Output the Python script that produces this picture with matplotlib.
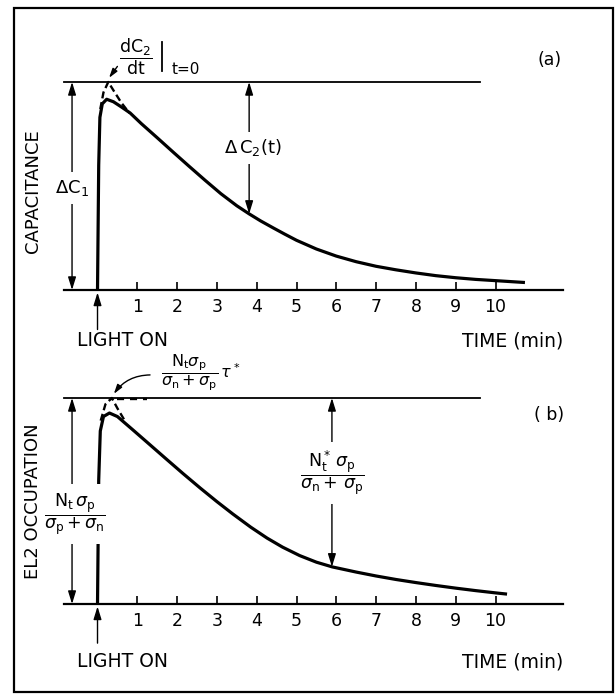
import numpy as np
import matplotlib
matplotlib.use("Agg")
import matplotlib.pyplot as plt
from matplotlib.patches import Rectangle, ArrowStyle

plt.rcParams['font.family'] = ['DejaVu Sans']
plt.rcParams['mathtext.fontset'] = 'dejavusans'

# ---------------- data ----------------
# (a) capacitance transient, normalised to Delta C1 = 1
cap_t = [0, 0.03, 0.06, 0.12, 0.23, 0.4, 0.6, 0.82, 1.1, 1.5, 1.9, 2.3, 2.7,
         3.1, 3.5, 3.81, 4.1, 4.42, 4.7, 5.0, 5.5, 6.0, 6.5, 7.0,
         7.5, 8.0, 8.5, 9.0, 9.5, 10.0, 10.74]
cap_v = [0, 0.6, 0.83, 0.895, 0.917, 0.905, 0.88, 0.851, 0.80, 0.732, 0.663,
         0.595, 0.528, 0.463, 0.405, 0.366, 0.332, 0.298, 0.269, 0.239,
         0.197, 0.163, 0.136, 0.114, 0.097, 0.082, 0.069, 0.059, 0.051,
         0.045, 0.036]
cap_dash_t = [0.07, 0.15, 0.27, 0.4, 0.6, 0.8]
cap_dash_v = [0.87, 0.95, 1.0, 0.96, 0.90, 0.851]

# (b) EL2 occupation, normalised
occ_t = [0, 0.03, 0.07, 0.15, 0.3, 0.5, 0.89, 1.3, 1.75, 2.15, 2.58, 3.0, 3.4,
         3.85, 4.26, 4.65, 5.08, 5.5, 5.9, 6.5, 7.0, 7.5, 8.0, 8.5, 9.0, 9.5,
         10.0, 10.29]
occ_v = [0, 0.6, 0.84, 0.91, 0.927, 0.91, 0.845, 0.776, 0.70, 0.633, 0.563,
         0.497, 0.437, 0.373, 0.32, 0.276, 0.235, 0.203, 0.18, 0.155, 0.136,
         0.119, 0.104, 0.09, 0.077, 0.065, 0.054, 0.048]
occ_dash_t = [0.08, 0.2, 0.36, 0.5, 0.7]
occ_dash_v = [0.89, 0.97, 1.0, 0.95, 0.885]
occ_flat_t = [0.5, 1.25]
occ_flat_v = [0.995, 0.995]

tick_values = [1, 2, 3, 4, 5, 6, 7, 8, 9, 10]
tick_labels = ['1', '2', '3', '4', '5', '6', '7', '8', '9', '10']

ref_level = 1.0          # saturation level (top reference line)
ref_line_end = 9.6       # end of top reference line (min)
arrow_t_a = 3.81         # Delta C2(t) arrow position (min)
arrow_t_b = 5.89         # N*t arrow position (min)

# ---------------- layout ----------------
W, H = 616, 694
fig = plt.figure(figsize=(W / 100, H / 100), dpi=100)
fig.patch.set_facecolor('white')

XMIN, XMAX = -0.842, 11.696


def rect(left, right, top, bottom):
    return [left / W, 1 - bottom / H, (right - left) / W, (bottom - top) / H]


ax_a = fig.add_axes(rect(64, 563, 82, 290))
ax_b = fig.add_axes(rect(64, 563, 398, 604))

head = ArrowStyle('<|-|>', head_length=0.55, head_width=0.17)
head1 = ArrowStyle('-|>', head_length=0.55, head_width=0.17)

for ax in (ax_a, ax_b):
    ax.set_xlim(XMIN, XMAX)
    ax.set_ylim(0, 1)
    for s in ('left', 'right', 'top'):
        ax.spines[s].set_visible(False)
    ax.spines['bottom'].set_linewidth(1.6)
    ax.set_yticks([])
    ax.set_xticks(tick_values)
    ax.set_xticklabels(tick_labels)
    ax.tick_params(axis='x', direction='in', length=5.5, width=1.2, pad=5.5,
                   labelsize=12.5)
    ax.set_facecolor('none')
    ax.plot([XMIN, ref_line_end], [ref_level, ref_level], color='black',
            lw=1.3, clip_on=False)
    ax.annotate('', xy=(0, -0.012), xytext=(0, -0.19), xycoords='data',
                arrowprops=dict(arrowstyle=head1, color='black', lw=1.0,
                                mutation_scale=14, shrinkA=0, shrinkB=0),
                annotation_clip=False)

# ---- panel (a) ----
ax_a.plot(cap_t, cap_v, color='black', lw=2.3, solid_capstyle='butt',
          solid_joinstyle='round', clip_on=False)
ax_a.plot(cap_dash_t, cap_dash_v, color='black', lw=1.7, ls=(0, (3.0, 1.6)),
          clip_on=False)

ax_a.annotate('', xy=(-0.64, 0), xytext=(-0.64, ref_level),
              arrowprops=dict(arrowstyle=head, color='black', lw=1.0,
                              mutation_scale=14, shrinkA=0, shrinkB=0),
              annotation_clip=False)
ax_a.text(-0.64, 0.49, r'$\Delta\mathrm{C}_\mathrm{1}$', ha='center',
          va='center', fontsize=13,
          bbox=dict(facecolor='white', edgecolor='none', pad=4))

ya = float(np.interp(arrow_t_a, cap_t, cap_v))
ax_a.annotate('', xy=(arrow_t_a, ya), xytext=(arrow_t_a, ref_level),
              arrowprops=dict(arrowstyle=head, color='black', lw=1.0,
                              mutation_scale=14, shrinkA=0, shrinkB=0),
              annotation_clip=False)
ax_a.text(arrow_t_a + 0.1, 0.683, r'$\Delta\,\mathrm{C}_\mathrm{2}\mathrm{(t)}$',
          ha='center', va='center', fontsize=13,
          bbox=dict(facecolor='white', edgecolor='none', pad=4))

ax_a.text(0.55, 1.12,
          r'$\dfrac{\mathrm{dC_2}}{\mathrm{dt}}$',
          ha='left', va='center', fontsize=12.5, clip_on=False)
ax_a.plot([1.62, 1.62], [1.055, 1.19], color='black', lw=1.3, clip_on=False)
ax_a.text(1.87, 1.058, 't=0', ha='left', va='center', fontsize=11,
          clip_on=False)
ax_a.annotate('', xy=(0.29, 1.02), xytext=(0.5, 1.075),
              arrowprops=dict(arrowstyle=head1, color='black', lw=1.0,
                              mutation_scale=10, shrinkA=0, shrinkB=0),
              annotation_clip=False)
ax_a.text(11.37, 1.105, '(a)', ha='center', va='center', fontsize=12.5,
          clip_on=False)
ax_a.text(-0.52, -0.245, 'LIGHT ON', ha='left', va='center', fontsize=13.5,
          clip_on=False)
ax_a.text(XMAX, -0.245, 'TIME (min)', ha='right', va='center', fontsize=13.5,
          clip_on=False)

# ---- panel (b) ----
ax_b.plot(occ_t, occ_v, color='black', lw=2.3, solid_capstyle='butt',
          solid_joinstyle='round', clip_on=False)
ax_b.plot(occ_dash_t, occ_dash_v, color='black', lw=1.7, ls=(0, (3.0, 1.6)),
          clip_on=False)
ax_b.plot(occ_flat_t, occ_flat_v, color='black', lw=1.7, ls=(0, (3.0, 2.5)),
          clip_on=False)

ax_b.annotate('', xy=(-0.64, 0), xytext=(-0.64, ref_level),
              arrowprops=dict(arrowstyle=head, color='black', lw=1.0,
                              mutation_scale=14, shrinkA=0, shrinkB=0),
              annotation_clip=False)
ax_b.text(-0.565, 0.437,
          r'$\dfrac{\mathrm{N_t}\,\sigma_\mathrm{p}}{\sigma_\mathrm{p}+\sigma_\mathrm{n}}$',
          ha='center', va='center', fontsize=12.5,
          bbox=dict(facecolor='white', edgecolor='none', pad=5))

yb = float(np.interp(arrow_t_b, occ_t, occ_v))
ax_b.annotate('', xy=(arrow_t_b, yb), xytext=(arrow_t_b, ref_level),
              arrowprops=dict(arrowstyle=head, color='black', lw=1.0,
                              mutation_scale=14, shrinkA=0, shrinkB=0),
              annotation_clip=False)
ax_b.text(arrow_t_b, 0.636,
          r'$\dfrac{\mathrm{N_t^*}\,\sigma_\mathrm{p}}{\sigma_\mathrm{n}+\,\sigma_\mathrm{p}}$',
          ha='center', va='center', fontsize=12.5,
          bbox=dict(facecolor='white', edgecolor='none', pad=5))

ax_b.text(1.6, 1.12,
          r'$\dfrac{\mathrm{N_t}\sigma_\mathrm{p}}{\sigma_\mathrm{n}+\sigma_\mathrm{p}}\,\tau^*$',
          ha='left', va='center', fontsize=11.5, clip_on=False)
ax_b.annotate('', xy=(0.41, 1.02), xytext=(1.32, 1.112),
              arrowprops=dict(arrowstyle=head1, color='black', lw=1.0,
                              mutation_scale=10, shrinkA=0, shrinkB=0,
                              connectionstyle='arc3,rad=0.25'),
              annotation_clip=False)
ax_b.text(11.34, 0.917, '( b)', ha='center', va='center', fontsize=12.5,
          clip_on=False)
ax_b.text(-0.52, -0.28, 'LIGHT ON', ha='left', va='center', fontsize=13.5,
          clip_on=False)
ax_b.text(XMAX, -0.28, 'TIME (min)', ha='right', va='center', fontsize=13.5,
          clip_on=False)

# y labels
fig.text(33 / W, 1 - 191 / H, 'CAPACITANCE', rotation=90, ha='center',
         va='center', fontsize=13)
fig.text(33 / W, 1 - 501 / H, 'EL2 OCCUPATION', rotation=90, ha='center',
         va='center', fontsize=13)

# outer frame
fig.patches.append(Rectangle((14 / W, 1 - 692 / H), (613 - 14) / W,
                             (692 - 8) / H, transform=fig.transFigure,
                             fill=False, edgecolor='black', lw=1.6))

fig.savefig('out.png', dpi=100)
